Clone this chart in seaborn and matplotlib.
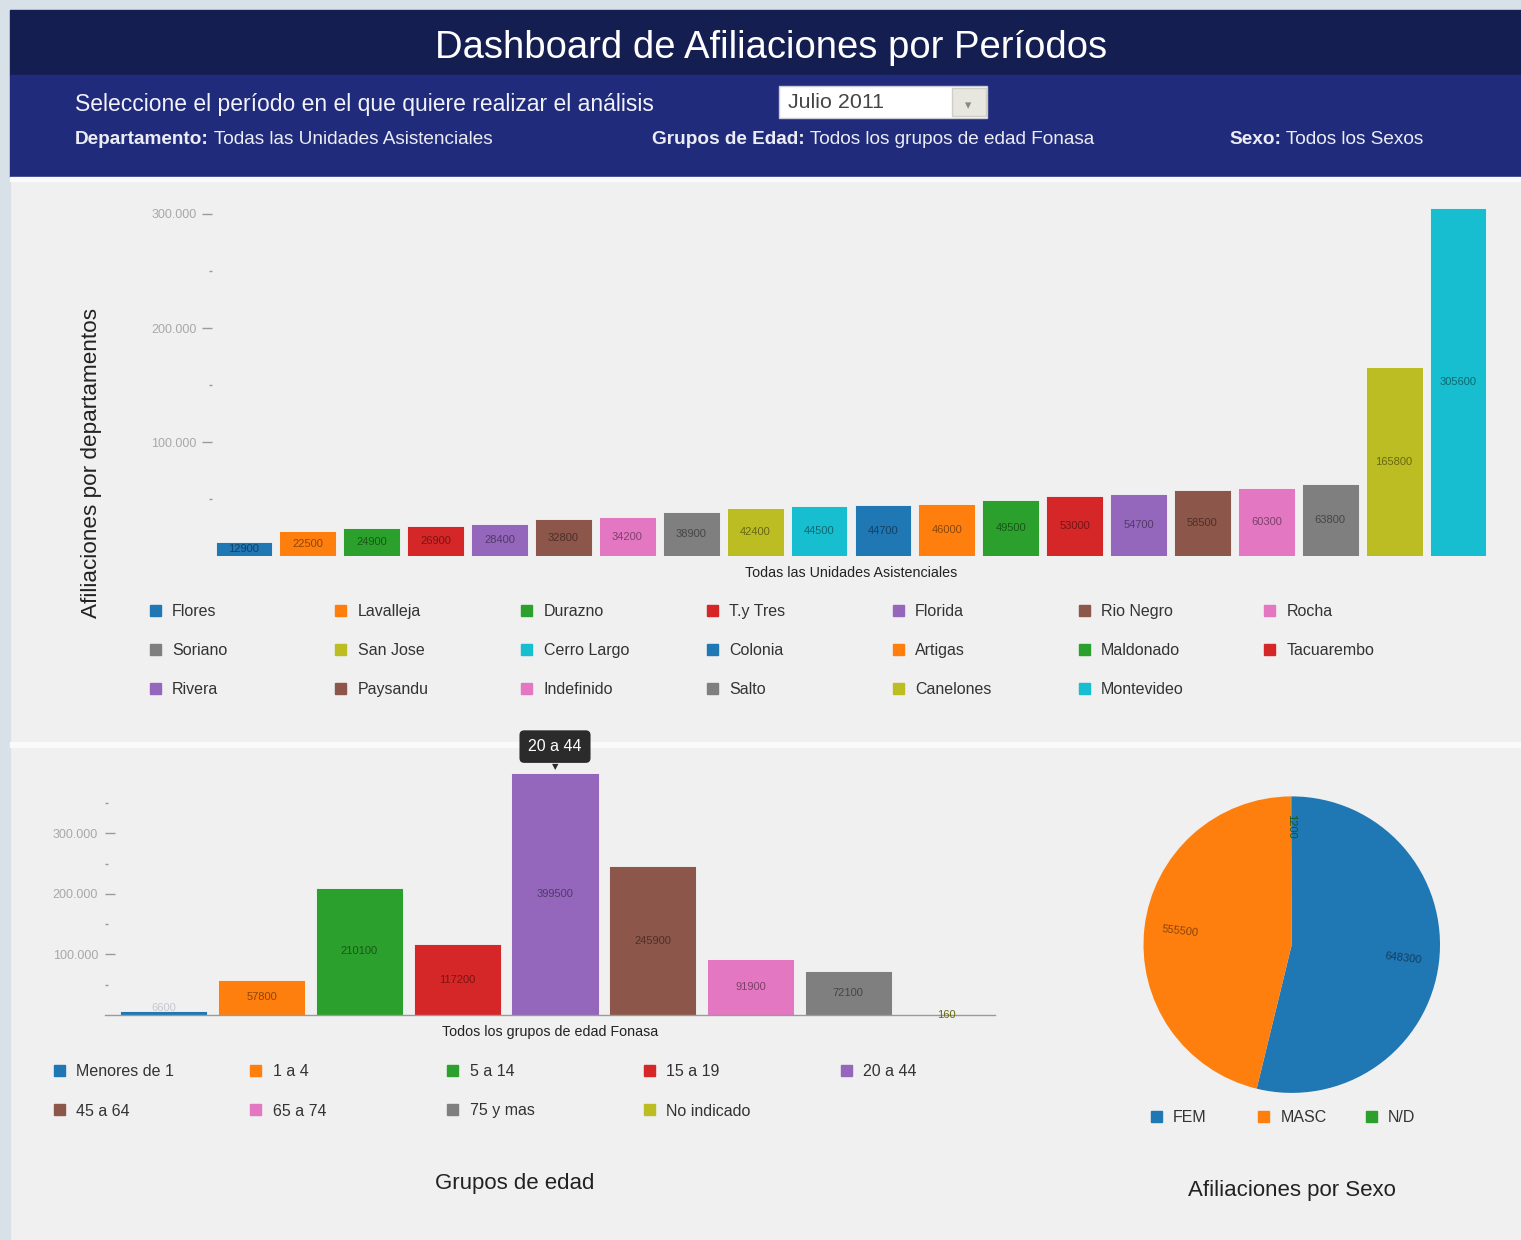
import math
import matplotlib
matplotlib.use("Agg")
import matplotlib.pyplot as plt
import seaborn as sns
from matplotlib.patches import Rectangle
from matplotlib.ticker import FuncFormatter, FixedLocator
from matplotlib.colors import to_rgb

departamentos = ["Flores", "Lavalleja", "Durazno", "T.y Tres", "Florida", "Rio Negro", "Rocha",
                 "Soriano", "San Jose", "Cerro Largo", "Colonia", "Artigas", "Maldonado", "Tacuarembo",
                 "Rivera", "Paysandu", "Indefinido", "Salto", "Canelones", "Montevideo"]
afiliados_depto = [12900, 22500, 24900, 26900, 28400, 32800, 34200, 38900, 42400, 44500,
                   44700, 46000, 49500, 53000, 54700, 58500, 60300, 63800, 165800, 305600]

grupos_edad = ["Menores de 1", "1 a 4", "5 a 14", "15 a 19", "20 a 44", "45 a 64",
               "65 a 74", "75 y mas", "No indicado"]
afiliados_edad = [6600, 57800, 210100, 117200, 399500, 245900, 91900, 72100, 160]

sexos = ["FEM", "MASC", "N/D"]
afiliados_sexo = [648300, 555500, 1200]

ticks_mayores = [100000, 200000, 300000]
ticks_menores = [50000, 150000, 250000, 350000]

titulo = "Dashboard de Afiliaciones por Períodos"
periodo = "Julio 2011"

sns.set_theme(style="white")
plt.rcParams["font.family"] = ["Liberation Sans", "DejaVu Sans"]

W, H = 1521, 1240
fig = plt.figure(figsize=(W / 100, H / 100), dpi=100, facecolor="#f0f0f0")


def box(x0, y0, x1, y1):
    return [x0 / W, 1 - y1 / H, (x1 - x0) / W, (y1 - y0) / H]


def dark(c, k=0.55):
    return tuple(v * k for v in to_rgb(c))


def miles(v, pos=None):
    return f"{int(v):,}".replace(",", ".")


def ejes_barras(ax):
    ax.set_xticks([])
    ax.yaxis.set_major_locator(FixedLocator(ticks_mayores))
    ax.yaxis.set_minor_locator(FixedLocator(ticks_menores))
    ax.yaxis.set_major_formatter(FuncFormatter(miles))
    ax.set_ylabel("")


def leyenda(nombres, colores, x0, dx, y0, dy, ncol):
    for i, (n, c) in enumerate(zip(nombres, colores)):
        cx = x0 + (i % ncol) * dx
        cy = y0 + (i // ncol) * dy
        bg.add_patch(Rectangle((cx - 5.5, cy - 5.5), 11, 11, color=c))
        bg.text(cx + 17, cy, n, ha="left", va="center_baseline", fontsize=11.5, color="#333333")


tab = sns.color_palette("tab10", 10)

# fondo y cabecera
bg = fig.add_axes([0, 0, 1, 1])
bg.set_xlim(0, W)
bg.set_ylim(H, 0)
bg.axis("off")
bg.set_zorder(0)
bg.add_patch(Rectangle((0, 0), W, 10, color="#d7e1e7"))
bg.add_patch(Rectangle((0, 0), 10, H, color="#d7e1e7"))
bg.add_patch(Rectangle((10, 10), W - 10, 65, color="#151e50"))
bg.add_patch(Rectangle((10, 75), W - 10, 102, color="#202c7b"))
bg.add_patch(Rectangle((10, 177), W - 10, 4, color="#fafafa"))
bg.add_patch(Rectangle((10, 742), W - 10, 5, color="#fafafa"))

bg.text(771, 44, titulo, ha="center", va="center_baseline", fontsize=27.5, color="white")
bg.text(75, 102, "Seleccione el período en el que quiere realizar el análisis",
        ha="left", va="center_baseline", fontsize=16.5, color="#f2f2f8")
bg.add_patch(Rectangle((779, 86), 208, 32, facecolor="white", edgecolor="#c8cad6", lw=1))
bg.add_patch(Rectangle((952, 88), 34, 28, facecolor="#e7e7df", edgecolor="#cfcfc6", lw=1))
bg.text(968, 106, "▾", ha="center", va="center", fontsize=9, color="#888888",
        family="DejaVu Sans")
bg.text(788, 101, periodo, ha="left", va="center_baseline", fontsize=15.4, color="#444444")

filtros = [(75, "Departamento:", " Todas las Unidades Asistenciales"),
           (652, "Grupos de Edad:", " Todos los grupos de edad Fonasa"),
           (1229, "Sexo:", " Todos los Sexos")]
for x, k, v in filtros:
    t = bg.text(x, 138, k, ha="left", va="center_baseline", fontsize=13.7, color="#ececf4",
                fontweight="bold")
    bg.annotate(v, xy=(1, 0), xycoords=t, ha="left", va="bottom", fontsize=13.7,
                color="#ececf4")

# grafico de departamentos
pal20 = [tab[i % 10] for i in range(len(departamentos))]
ax1 = fig.add_axes(box(212, 203, 1490, 556.4))
ax1.set_zorder(1)
ax1.patch.set_alpha(0)
sns.barplot(x=departamentos, y=afiliados_depto, hue=departamentos, palette=pal20,
            legend=False, width=0.89, saturation=1, linewidth=0.6, edgecolor="#f7f7f7", ax=ax1)
ax1.set_xlim(-0.5, len(departamentos) - 0.5)
ax1.set_ylim(0, 309600)
for s in ax1.spines.values():
    s.set_visible(False)
ejes_barras(ax1)
ax1.tick_params(axis="y", which="major", left=True, length=7, width=1, color="#9a9a9a",
                labelsize=9, labelcolor="#a8a8a8", pad=4)
ax1.tick_params(axis="y", which="minor", left=True, length=2, width=1, color="#9a9a9a")
ax1.set_xlabel("Todas las Unidades Asistenciales", fontsize=10.3, color="#222222", labelpad=7)
for p, v, c in zip(ax1.patches, afiliados_depto, pal20):
    ax1.text(p.get_x() + p.get_width() / 2, v / 2, str(v), ha="center", va="center",
             fontsize=8, color=dark(c))

bg.text(92, 463, "Afiliaciones por departamentos", rotation=90, ha="center", va="center",
        fontsize=16.2, color="#222222")
leyenda(departamentos, pal20, 155, 185.8, 610, 39, 7)

# grafico de grupos de edad
pal9 = [tab[i % 10] for i in range(len(grupos_edad))]
ax2 = fig.add_axes(box(105, 771, 995, 1015))
ax2.set_zorder(1)
ax2.patch.set_alpha(0)
sns.barplot(x=grupos_edad, y=afiliados_edad, hue=grupos_edad, palette=pal9,
            legend=False, width=0.89, saturation=1, linewidth=0.6, edgecolor="#f7f7f7", ax=ax2)
ax2.set_xlim(-0.5 - 10 / 97.8, len(grupos_edad) - 0.5)
ax2.set_ylim(0, 402800)
for k, s in ax2.spines.items():
    s.set_visible(k == "bottom")
ax2.spines["bottom"].set_color("#9a9a9a")
ax2.spines["bottom"].set_linewidth(1)
ejes_barras(ax2)
ax2.tick_params(axis="y", which="major", left=True, direction="in", length=7, width=1,
                color="#9a9a9a", labelsize=9, labelcolor="#a8a8a8", pad=5)
ax2.tick_params(axis="y", which="minor", left=True, direction="in", length=2, width=1,
                color="#9a9a9a")
ax2.set_xlabel("Todos los grupos de edad Fonasa", fontsize=10.3, color="#222222", labelpad=7)
for p, v, c in zip(ax2.patches, afiliados_edad, pal9):
    y = v / 2
    col = dark(c)
    if 1000 < v < 20000:
        y = v + 5000
        col = "#c8c8d0"
    ax2.text(p.get_x() + p.get_width() / 2, y, str(v), ha="center", va="center",
             fontsize=8, color=col)

imax = afiliados_edad.index(max(afiliados_edad))
ax2.annotate(grupos_edad[imax], xy=(imax, afiliados_edad[imax]), xytext=(0, 19),
             textcoords="offset points", ha="center", va="center", fontsize=11.5,
             color="white", annotation_clip=False,
             bbox=dict(boxstyle="round,pad=0.55,rounding_size=0.3", fc="#2b2b2b", ec="none"))
ax2.annotate("▼", xy=(imax, afiliados_edad[imax]), xytext=(0, 4.5),
             textcoords="offset points", ha="center", va="center", fontsize=6,
             color="#2b2b2b", family="DejaVu Sans", annotation_clip=False)

leyenda(grupos_edad, pal9, 59, 196.8, 1070.5, 39, 5)
bg.text(515, 1181, "Grupos de edad", ha="center", va="center_baseline", fontsize=16,
        color="#222222")

# torta por sexo
pal3 = tab[:3]
ax3 = fig.add_axes(box(1143.5, 796, 1440, 1093.3))
ax3.set_zorder(1)
wedges, _ = ax3.pie(afiliados_sexo, colors=pal3, startangle=90, counterclock=False,
                    wedgeprops=dict(linewidth=0))
ax3.set_xlim(-1, 1)
ax3.set_ylim(-1, 1)
ax3.set_aspect("equal")
for w, v, c in zip(wedges, afiliados_sexo, pal3):
    th = (w.theta1 + w.theta2) / 2
    r = 0.8 if v < 20000 else 0.76
    x, y = r * math.cos(math.radians(th)), r * math.sin(math.radians(th))
    rot = ((th + 90) % 180) - 90
    ax3.text(x, y, str(v), ha="center", va="center", rotation=rot, fontsize=8,
             color=dark(c), rotation_mode="anchor")

leyenda(sexos, pal3, 1156, 107.5, 1116.5, 0, 3)
bg.text(1292, 1188, "Afiliaciones por Sexo", ha="center", va="center_baseline", fontsize=16,
        color="#222222")

fig.savefig("out.png", dpi=100, facecolor=fig.get_facecolor())
